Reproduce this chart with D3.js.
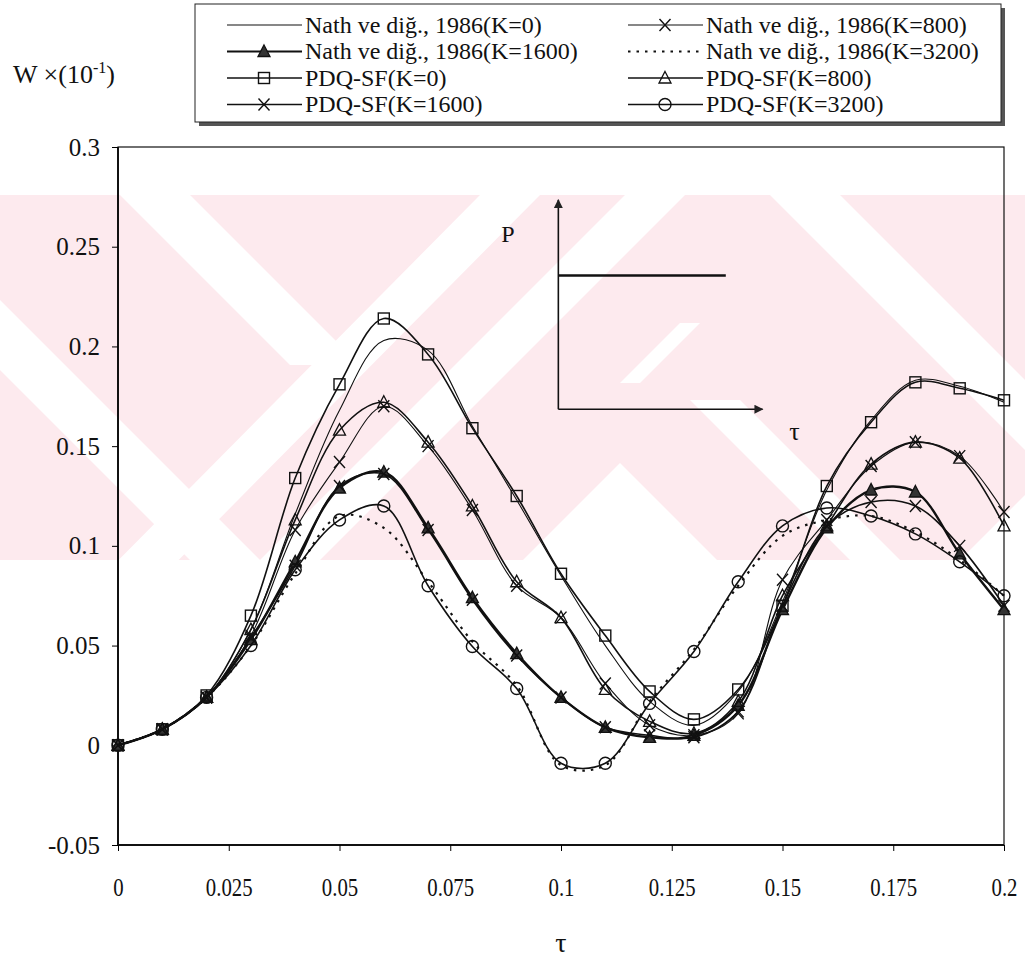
<!DOCTYPE html>
<html>
<head>
<meta charset="utf-8">
<script src="https://cdn.jsdelivr.net/npm/d3@7"></script>
<style>
  body { margin: 0; background: #fff; }
  svg { display: block; }
  text { font-family: "Liberation Serif", "Times New Roman", serif; fill: #111; }
</style>
</head>
<body>
<div id="chart"></div>
<script>
// dimensionless time
const tau = [0, 0.01, 0.02, 0.03, 0.04, 0.05, 0.06, 0.07, 0.08, 0.09, 0.1,
  0.11, 0.12, 0.13, 0.14, 0.15, 0.16, 0.17, 0.18, 0.19, 0.2];

// Nath ve diğ., 1986
const nathK0 = [0, 0.008, 0.024, 0.058, 0.116, 0.168, 0.203, 0.198, 0.16, 0.123, 0.085,
  0.05, 0.022, 0.01, 0.027, 0.072, 0.128, 0.163, 0.183, 0.18, 0.172];
const nathK800 = [0, 0.008, 0.024, 0.055, 0.108, 0.142, 0.17, 0.15, 0.118, 0.08, 0.064,
  0.031, 0.01, 0.005, 0.016, 0.083, 0.113, 0.14, 0.152, 0.145, 0.117];
const nathK1600 = [0, 0.008, 0.024, 0.053, 0.092, 0.129, 0.137, 0.109, 0.074, 0.046, 0.024,
  0.009, 0.004, 0.005, 0.02, 0.068, 0.109, 0.128, 0.127, 0.096, 0.068];
const nathK3200 = [0, 0.008, 0.024, 0.05, 0.086, 0.115, 0.109, 0.082, 0.052, 0.03, -0.01,
  -0.01, 0.022, 0.048, 0.08, 0.105, 0.113, 0.115, 0.107, 0.093, 0.075];

// PDQ-SF
const pdqK0 = [0, 0.008, 0.025, 0.065, 0.134, 0.181, 0.214, 0.196, 0.159, 0.125, 0.086,
  0.055, 0.027, 0.013, 0.028, 0.07, 0.13, 0.162, 0.182, 0.179, 0.173];
const pdqK800 = [0, 0.008, 0.024, 0.058, 0.113, 0.158, 0.172, 0.152, 0.12, 0.082, 0.064,
  0.028, 0.012, 0.006, 0.022, 0.075, 0.11, 0.141, 0.152, 0.144, 0.11];
const pdqK1600 = [0, 0.008, 0.024, 0.054, 0.09, 0.13, 0.136, 0.108, 0.073, 0.045, 0.024,
  0.009, 0.005, 0.004, 0.017, 0.07, 0.11, 0.122, 0.12, 0.1, 0.07];
const pdqK3200 = [0, 0.008, 0.024, 0.05, 0.088, 0.113, 0.12, 0.08, 0.0495, 0.0285, -0.009,
  -0.009, 0.021, 0.047, 0.082, 0.11, 0.119, 0.115, 0.106, 0.092, 0.075];

const xTicks = [0, 0.025, 0.05, 0.075, 0.1, 0.125, 0.15, 0.175, 0.2];
const xTickLabels = ["0", "0.025", "0.05", "0.075", "0.1", "0.125", "0.15", "0.175", "0.2"];
const yTicks = [-0.05, 0, 0.05, 0.1, 0.15, 0.2, 0.25, 0.3];
const yTickLabels = ["-0.05", "0", "0.05", "0.1", "0.15", "0.2", "0.25", "0.3"];

const seriesLabels = [
  "Nath ve diğ., 1986(K=0)", "Nath ve diğ., 1986(K=1600)", "PDQ-SF(K=0)", "PDQ-SF(K=1600)",
  "Nath ve diğ., 1986(K=800)", "Nath ve diğ., 1986(K=3200)", "PDQ-SF(K=800)", "PDQ-SF(K=3200)"
];

const width = 1025;
const height = 958;
const margin = { top: 147, right: 21, bottom: 113, left: 118 };

const series = [
  { label: seriesLabels[0], values: nathK0, marker: null, width: 1.1 },
  { label: seriesLabels[1], values: nathK1600, marker: "triFilled", width: 2.4 },
  { label: seriesLabels[2], values: pdqK0, marker: "square", width: 1.6 },
  { label: seriesLabels[3], values: pdqK1600, marker: "x", width: 1.6 },
  { label: seriesLabels[4], values: nathK800, marker: "x", width: 1.1 },
  { label: seriesLabels[5], values: nathK3200, marker: null, width: 2.2, dash: "2.5,6" },
  { label: seriesLabels[6], values: pdqK800, marker: "triangle", width: 1.6 },
  { label: seriesLabels[7], values: pdqK3200, marker: "circle", width: 1.6 }
];

const svg = d3.select("#chart")
  .append("svg")
  .attr("width", width)
  .attr("height", height)
  .attr("viewBox", [0, 0, width, height]);

// faint pink watermark behind the plot
const wm = svg.append("g");
wm.append("clipPath").attr("id", "wmclip")
  .append("rect").attr("x", 0).attr("y", 195).attr("width", width).attr("height", 365);
const wmg = wm.append("g").attr("clip-path", "url(#wmclip)");
wmg.append("rect").attr("x", 0).attr("y", 195).attr("width", width).attr("height", 365)
  .attr("fill", "#fdeaee");
const whiteBands = [
  [[120, 195], [190, 195], [360, 365], [290, 365]],
  [[0, 300], [0, 370], [190, 560], [260, 560]].reverse(),
  [[-20, 700], [40, 700], [540, 195], [480, 195]],
  [[120, 700], [180, 700], [685, 195], [625, 195]],
  [[620, 463], [720, 563], [520, 563]],
  [[620, 383], [640, 383], [700, 323], [680, 323]],
  [[770, 195], [840, 195], [1025, 380], [1025, 450]],
  [[690, 400], [740, 400], [900, 560], [850, 560]],
  [[960, 560], [1025, 495], [1025, 560]]
];
wmg.selectAll("polygon").data(whiteBands).join("polygon")
  .attr("points", (d) => d.map((p) => p.join(",")).join(" "))
  .attr("fill", "#fff");

const x = d3.scaleLinear()
  .domain([0, 0.2])
  .range([margin.left, width - margin.right]);

const y = d3.scaleLinear()
  .domain([-0.05, 0.3])
  .range([height - margin.bottom, margin.top]);

// plot frame
svg.append("rect")
  .attr("x", x(0)).attr("y", y(0.3))
  .attr("width", x(0.2) - x(0)).attr("height", y(-0.05) - y(0.3))
  .attr("fill", "none").attr("stroke", "#111").attr("stroke-width", 1.2);
svg.append("line")
  .attr("x1", x(0)).attr("x2", x(0)).attr("y1", y(0.3)).attr("y2", y(-0.05))
  .attr("stroke", "#111").attr("stroke-width", 2);
svg.append("line")
  .attr("x1", x(0)).attr("x2", x(0.2)).attr("y1", y(-0.05)).attr("y2", y(-0.05))
  .attr("stroke", "#111").attr("stroke-width", 2.2);

// axes
const yAxis = svg.append("g")
  .attr("transform", `translate(${x(0)},0)`)
  .call(d3.axisLeft(y).tickValues(yTicks).tickFormat((d, i) => yTickLabels[i])
    .tickSize(6).tickPadding(12));
yAxis.select(".domain").remove();
yAxis.selectAll("text").attr("font-size", 25).attr("font-family", "Liberation Serif");

const xAxis = svg.append("g")
  .attr("transform", `translate(0,${y(-0.05)})`)
  .call(d3.axisBottom(x).tickValues(xTicks).tickFormat((d, i) => xTickLabels[i])
    .tickSize(6).tickPadding(27));
xAxis.select(".domain").remove();
xAxis.selectAll("text").attr("font-size", 26).attr("font-family", "Liberation Serif")
  .attr("transform", "scale(0.8,1)");

// axis titles
const yTitle = svg.append("text").attr("x", 13).attr("y", 83).attr("font-size", 26);
yTitle.append("tspan").text("W ×(10");
yTitle.append("tspan").attr("dy", -10).attr("font-size", 16).text("-1");
yTitle.append("tspan").attr("dy", 10).text(")");

svg.append("text")
  .attr("x", x(0.1)).attr("y", 952)
  .attr("text-anchor", "middle").attr("font-size", 28)
  .text("τ");

// inset: step load P(τ)
const inset = svg.append("g");
const ix0 = x(0.0994), iy0 = y(0.1685);
inset.append("defs").append("marker")
  .attr("id", "arrow").attr("viewBox", "0 0 10 10")
  .attr("refX", 9).attr("refY", 5)
  .attr("markerWidth", 12).attr("markerHeight", 9)
  .attr("markerUnits", "userSpaceOnUse")
  .attr("orient", "auto")
  .append("path").attr("d", "M0,0L10,5L0,10Z").attr("fill", "#222");
inset.append("line")
  .attr("x1", ix0).attr("y1", iy0).attr("x2", ix0).attr("y2", y(0.2735))
  .attr("stroke", "#111").attr("stroke-width", 1.6).attr("marker-end", "url(#arrow)");
inset.append("line")
  .attr("x1", ix0).attr("y1", iy0).attr("x2", x(0.1455)).attr("y2", iy0)
  .attr("stroke", "#111").attr("stroke-width", 1.6).attr("marker-end", "url(#arrow)");
inset.append("line")
  .attr("x1", ix0).attr("y1", y(0.2356)).attr("x2", x(0.1372)).attr("y2", y(0.2356))
  .attr("stroke", "#111").attr("stroke-width", 2.6);
inset.append("text")
  .attr("x", x(0.0865)).attr("y", y(0.2525)).attr("font-size", 24).text("P");
inset.append("text")
  .attr("x", x(0.1515)).attr("y", y(0.153)).attr("font-size", 26).text("τ");

// marker shapes
function drawMarker(g, type) {
  if (type === "square") {
    g.append("rect").attr("x", -5.5).attr("y", -5.5).attr("width", 11).attr("height", 11)
      .attr("fill", "none").attr("stroke", "#111").attr("stroke-width", 1.4);
  } else if (type === "triangle" || type === "triFilled") {
    g.append("path").attr("d", "M0,-6.5L6,5L-6,5Z")
      .attr("fill", type === "triFilled" ? "#333" : "none")
      .attr("stroke", "#111").attr("stroke-width", 1.3);
  } else if (type === "circle") {
    g.append("circle").attr("r", 6)
      .attr("fill", "none").attr("stroke", "#111").attr("stroke-width", 1.4);
  } else if (type === "x") {
    g.append("path").attr("d", "M-5.5,-6L5.5,6M-5.5,6L5.5,-6")
      .attr("fill", "none").attr("stroke", "#111").attr("stroke-width", 1.4);
  }
}

const line = d3.line()
  .x((d, i) => x(tau[i]))
  .y((d) => y(d))
  .curve(d3.curveCatmullRom.alpha(0.5));

const plot = svg.append("g");
series.forEach((s) => {
  plot.append("path")
    .attr("d", line(s.values))
    .attr("fill", "none")
    .attr("stroke", "#111")
    .attr("stroke-width", s.width)
    .attr("stroke-dasharray", s.dash || null);
  if (s.marker) {
    s.values.forEach((v, i) => {
      const g = plot.append("g").attr("transform", `translate(${x(tau[i])},${y(v)})`);
      drawMarker(g, s.marker);
    });
  }
});

// legend
const legend = svg.append("g");
legend.append("rect")
  .attr("x", 199).attr("y", 8).attr("width", 806).attr("height", 118)
  .attr("fill", "#555");
legend.append("rect")
  .attr("x", 195).attr("y", 4).attr("width", 806).attr("height", 118)
  .attr("fill", "#fff").attr("stroke", "#222").attr("stroke-width", 1);

series.forEach((s, i) => {
  const col = i < 4 ? 0 : 1;
  const row = i % 4;
  const lx = col === 0 ? 227 : 628;
  const ly = 25 + row * 26.5;
  const item = legend.append("g").attr("transform", `translate(${lx},${ly})`);
  item.append("line")
    .attr("x1", 0).attr("x2", 75).attr("y1", 0).attr("y2", 0)
    .attr("stroke", "#111").attr("stroke-width", s.dash ? 2.2 : Math.min(s.width, 1.8))
    .attr("stroke-dasharray", s.dash || null);
  if (s.marker) {
    drawMarker(item.append("g").attr("transform", "translate(37,0)"), s.marker);
  }
  item.append("text")
    .attr("x", 78).attr("y", 0).attr("dy", "0.33em")
    .attr("font-size", 24)
    .text(s.label);
});
</script>
</body>
</html>
